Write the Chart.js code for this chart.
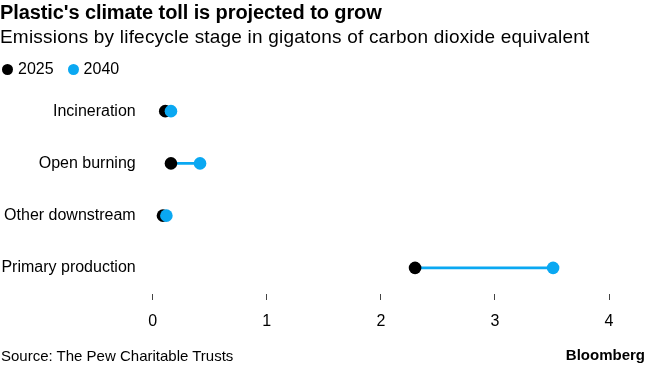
<!DOCTYPE html>
<html>
<head>
<meta charset="utf-8">
<script src="https://cdn.jsdelivr.net/npm/chart.js@4/dist/chart.umd.min.js"></script>
<style>
  html, body { margin: 0; padding: 0; background: #fff; }
  body { width: 650px; height: 366px; position: relative; overflow: hidden; font-family: "Liberation Sans", Arial, sans-serif; color: #000; }
  #wrap { position: absolute; left: 0; top: 0; width: 650px; height: 366px; }
  .t { position: absolute; white-space: nowrap; }
  #title { left: 0; top: 2px; font-size: 20px; line-height: 20px; font-weight: bold; letter-spacing: -0.1px; }
  #sub { left: 0; top: 27px; font-size: 19px; line-height: 19px; letter-spacing: 0.2px; }
  #legend { left: 2px; top: 61px; font-size: 16px; line-height: 16px; display: flex; align-items: center; }
  .dot { display: inline-block; width: 11px; height: 11px; border-radius: 50%; margin-right: 5px; }
  .item { display: inline-flex; align-items: center; margin-right: 14px; }
  #source { left: 1px; top: 348px; font-size: 15px; line-height: 15px; }
  #brand { right: 5px; top: 347px; font-size: 15px; line-height: 15px; font-weight: bold; }
</style>
</head>
<body>
<div id="wrap"><canvas id="c" width="650" height="366"></canvas></div>
<div class="t" id="title">Plastic's climate toll is projected to grow</div>
<div class="t" id="sub">Emissions by lifecycle stage in gigatons of carbon dioxide equivalent</div>
<div class="t" id="legend">
  <span class="item"><span class="dot" style="background:#000"></span>2025</span>
  <span class="item"><span class="dot" style="background:#0aa8f2"></span>2040</span>
</div>
<div class="t" id="source">Source: The Pew Charitable Trusts</div>
<div class="t" id="brand">Bloomberg</div>
<script>
const categories = ["Incineration", "Open burning", "Other downstream", "Primary production"];
const values2025 = [0.11, 0.16, 0.09, 2.30];
const values2040 = [0.16, 0.415, 0.12, 3.51];
const xTicks = [0, 1, 2, 3, 4];

const BLUE = "#0aa8f2";
const ranges = categories.map((c, i) => [values2025[i], values2040[i]]);

new Chart(document.getElementById("c"), {
  type: "bar",
  data: {
    labels: categories,
    datasets: [
      { type: "bar", indexAxis: "y", data: ranges, backgroundColor: BLUE, barThickness: 2, borderWidth: 0, order: 3 },
      { type: "line", indexAxis: "y", data: values2025, showLine: false, pointRadius: 6.3, pointBackgroundColor: "#000", pointBorderWidth: 0, pointBorderColor: "#000", order: 2 },
      { type: "line", indexAxis: "y", data: values2040, showLine: false, pointRadius: 6.3, pointBackgroundColor: BLUE, pointBorderWidth: 0, pointBorderColor: BLUE, order: 1 }
    ]
  },
  options: {
    indexAxis: "y",
    responsive: false,
    animation: false,
    layout: { padding: { left: 0, right: 41, top: 85, bottom: 32 } },
    plugins: { legend: { display: false }, tooltip: { enabled: false } },
    scales: {
      x: {
        type: "linear",
        min: 0, max: 4,
        afterBuildTicks: (s) => { s.ticks = xTicks.map(v => ({ value: v })); },
        afterFit: (s) => { s.height = 40; },
        border: { display: false },
        grid: { drawOnChartArea: false, drawTicks: true, tickLength: 6, color: "#444", lineWidth: 1 },
        ticks: { padding: 12, color: "#000", font: { family: "Liberation Sans", size: 16 }, maxRotation: 0 }
      },
      y: {
        type: "category",
        afterFit: (s) => { s.width = 152.7; },
        border: { display: false },
        grid: { display: false, drawTicks: false },
        ticks: { padding: 17, color: "#000", font: { family: "Liberation Sans", size: 16 } }
      }
    }
  }
});
</script>
</body>
</html>
